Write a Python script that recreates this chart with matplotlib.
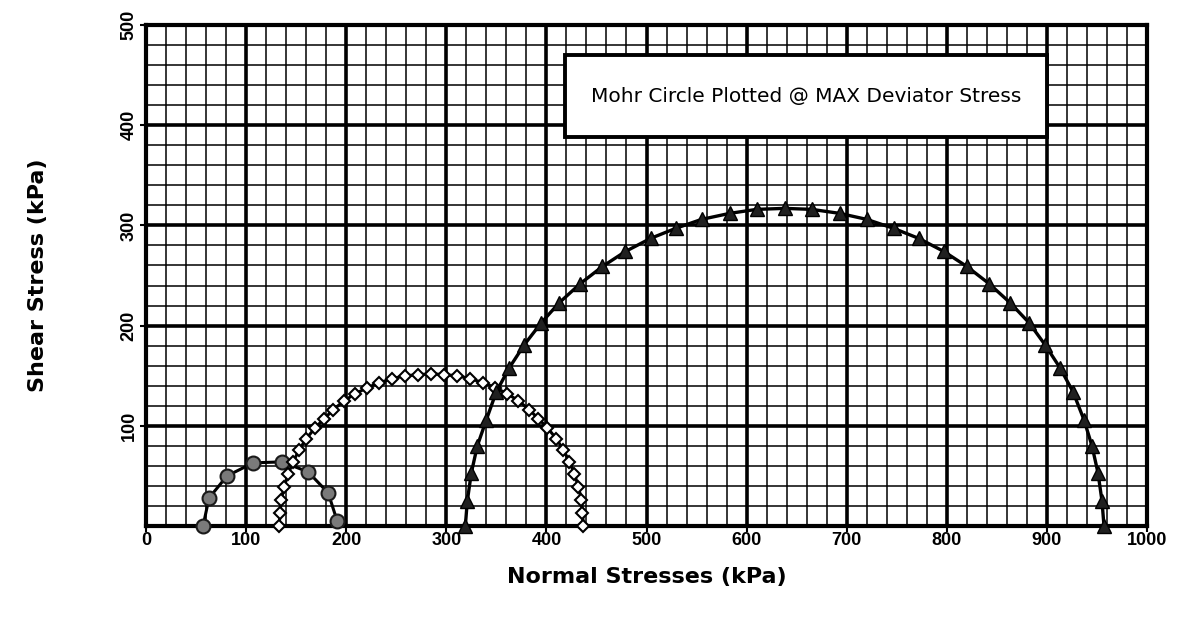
import matplotlib.pyplot as plt
from matplotlib.patches import Rectangle
from matplotlib.ticker import MultipleLocator

plt.rcParams['font.family'] = ['Liberation Sans', 'DejaVu Sans']

# Test 1 - Mohr circle (circles)
s1_x = [57, 63, 81, 107, 136, 162, 182, 191]
s1_y = [0, 28, 50, 63, 64, 54, 33, 5]

# Test 2 - Mohr circle (diamonds)
s2_x = [133, 134, 135, 138, 142, 147, 153, 160, 169, 178, 187, 198, 209,
        221, 233, 246, 259, 272, 285, 298, 311, 324, 337, 349, 361, 372,
        383, 392, 401, 410, 417, 423, 428, 432, 435, 436, 437]
s2_y = [0, 13, 26, 39, 52, 64, 76, 87, 98, 107, 116, 125, 132,
        138, 143, 147, 150, 151, 152, 151, 150, 147, 143, 138, 132, 125,
        116, 107, 98, 87, 76, 64, 52, 39, 26, 13, 0]

# Test 3 - Mohr circle (triangles)
s3_x = [319, 321, 325, 331, 340, 350, 363, 378, 395, 413, 434, 456, 479,
        504, 529, 555, 583, 610, 638, 665, 693, 720, 747, 772, 797, 820,
        842, 863, 882, 898, 913, 926, 937, 945, 951, 955, 957]
s3_y = [0, 25, 53, 80, 106, 134, 158, 181, 203, 223, 242, 259, 274,
        287, 297, 306, 312, 316, 317, 316, 312, 306, 297, 287, 274, 259,
        242, 223, 203, 181, 158, 134, 106, 80, 53, 25, 0]

x_ticks = [0, 100, 200, 300, 400, 500, 600, 700, 800, 900, 1000]
y_ticks = [100, 200, 300, 400, 500]

fig = plt.figure(figsize=(11.83, 6.25), dpi=100)
ax = fig.add_axes([0.1234, 0.1584, 0.8462, 0.8016])

ax.set_xlim(0, 1000)
ax.set_ylim(0, 500)

# graph-paper grid
ax.xaxis.set_minor_locator(MultipleLocator(20))
ax.yaxis.set_minor_locator(MultipleLocator(20))
ax.grid(which='major', color='black', linewidth=2.6)
ax.grid(which='minor', color='black', linewidth=1.1)
ax.set_axisbelow(True)

for sp in ax.spines.values():
    sp.set_linewidth(3)

ax.set_xticks(x_ticks)
ax.set_yticks(y_ticks)
ax.set_xticklabels([str(v) for v in x_ticks], fontsize=13, fontweight='bold')
ax.set_yticklabels([str(v) for v in y_ticks], fontsize=13, fontweight='bold',
                   rotation=90, va='center')
ax.tick_params(axis='x', which='major', direction='out', length=4,
               width=1.5, pad=0)
ax.tick_params(axis='y', which='major', direction='out', length=4,
               width=1.5, pad=2)
ax.tick_params(which='minor', length=0)

ax.plot(s1_x, s1_y, '-', color='black', linewidth=2.2, marker='o',
        markersize=10, markerfacecolor='#7a7a7a', markeredgecolor='#1a1a1a',
        markeredgewidth=1.5, clip_on=False, zorder=4)
ax.plot(s2_x, s2_y, '-', color='black', linewidth=2.2, marker='D',
        markersize=6, markerfacecolor='white', markeredgecolor='black',
        markeredgewidth=1.5, clip_on=False, zorder=4)
ax.plot(s3_x, s3_y, '-', color='black', linewidth=2.4, marker='^',
        markersize=9.5, markerfacecolor='#202020', markeredgecolor='black',
        markeredgewidth=1.0, clip_on=False, zorder=4)

ax.set_xlabel('Normal Stresses (kPa)', fontsize=16, fontweight='bold',
              family='DejaVu Sans', labelpad=13)
ax.set_ylabel('Shear Stress (kPa)', fontsize=16, fontweight='bold',
              family='DejaVu Sans', labelpad=52)

# note box
box = Rectangle((0.4186, 0.7764), 0.4815, 0.1637, transform=ax.transAxes,
                facecolor='white', edgecolor='black', linewidth=2.8, zorder=5)
ax.add_patch(box)
ax.text(0.6594, 0.858, 'Mohr Circle Plotted @ MAX Deviator Stress',
        transform=ax.transAxes, ha='center', va='center', fontsize=14.5,
        family='DejaVu Sans', zorder=6)

fig.savefig('out.png', dpi=100)
